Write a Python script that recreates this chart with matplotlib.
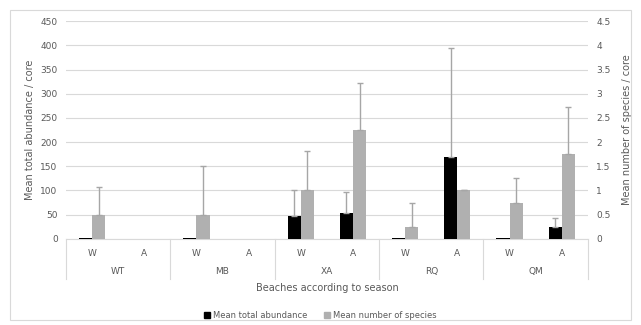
import numpy as np
import matplotlib
matplotlib.use("Agg")
import matplotlib.pyplot as plt
from matplotlib.patches import Rectangle

beaches = ["WT", "MB", "XA", "RQ", "QM"]
seasons = ["W", "A"]

abundance = [1, 0, 1, 0, 47, 53, 2, 170, 1, 25]
abundance_err = [0, 0, 0, 0, 54, 44, 0, 225, 0, 18]
species = [0.5, 0, 0.5, 0, 1.0, 2.25, 0.25, 1.0, 0.75, 1.75]
species_err = [0.57, 0, 1.0, 0, 0.82, 0.97, 0.5, 0.01, 0.5, 0.97]

txt = "#595959"
grid = "#d9d9d9"
plt.rcParams["font.family"] = "DejaVu Sans"

fig = plt.figure(figsize=(6.41, 3.25), dpi=100)
fig.patches.append(Rectangle((0.016, 0.015), 0.968, 0.955, transform=fig.transFigure,
                             fill=False, edgecolor=grid, linewidth=0.8))
ax = fig.add_axes([0.103, 0.265, 0.814, 0.67])
ax2 = ax.twinx()

x = np.arange(len(abundance))
w = 0.25
ab = np.array(abundance, dtype=float)
ab_e = np.array(abundance_err, dtype=float)
sp = np.array(species, dtype=float)
sp_e = np.array(species_err, dtype=float)

ax.bar(x - w / 2, ab, w, color="black", zorder=3)
ax2.bar(x + w / 2, sp, w, color="#b0b0b0", zorder=3)

m = ab_e > 0
ax.errorbar(x[m] - w / 2, ab[m], yerr=[np.zeros(m.sum()), ab_e[m]], fmt="none",
            ecolor="#a6a6a6", elinewidth=1, capsize=2, capthick=1, zorder=4)
m = sp_e > 0
ax2.errorbar(x[m] + w / 2, sp[m], yerr=[np.zeros(m.sum()), sp_e[m]], fmt="none",
             ecolor="#a6a6a6", elinewidth=1, capsize=2, capthick=1, zorder=4)

ax.set_ylim(0, 450)
ax2.set_ylim(0, 4.5)
ax.set_xlim(-0.5, len(x) - 0.5)
ax.set_yticks(np.arange(0, 451, 50))
ax2.set_yticks(np.arange(0, 4.51, 0.5))
ax2.set_yticklabels(["0", "0.5", "1", "1.5", "2", "2.5", "3", "3.5", "4", "4.5"])
ax.yaxis.grid(True, color=grid, linewidth=0.8, zorder=0)
ax.set_axisbelow(True)
for a in (ax, ax2):
    for s in a.spines.values():
        s.set_visible(False)
    a.tick_params(axis="y", length=0, labelsize=6.5, labelcolor=txt, pad=6)
ax.spines["bottom"].set_visible(True)
ax.spines["bottom"].set_color(grid)

ax.set_xticks(x)
ax.set_xticklabels(seasons * len(beaches))
ax.tick_params(axis="x", length=0, labelsize=6.5, labelcolor=txt, pad=7)

trans = ax.get_xaxis_transform()
for i in range(len(beaches) + 1):
    ax.plot([i * 2 - 0.5] * 2, [0, -0.185], color=grid, linewidth=0.8,
            transform=trans, clip_on=False)
for i, b in enumerate(beaches):
    ax.text(i * 2 + 0.5, -0.15, b, transform=trans, ha="center", va="center",
            fontsize=6.5, color=txt)

ax.set_xlabel("Beaches according to season", fontsize=7, color=txt, labelpad=18)
ax.set_ylabel("Mean total abundance / core", fontsize=7, color=txt, labelpad=4)
ax2.set_ylabel("Mean number of species / core", fontsize=7, color=txt, labelpad=8)

handles = [Rectangle((0, 0), 1, 1, color="black"), Rectangle((0, 0), 1, 1, color="#b0b0b0")]
fig.legend(handles, ["Mean total abundance", "Mean number of species"],
           loc="center", bbox_to_anchor=(0.5, 0.03), ncol=2, frameon=False,
           fontsize=6, labelcolor=txt, handlelength=0.7, handleheight=0.7,
           handletextpad=0.4, columnspacing=2)

fig.savefig("out.png", dpi=100)
